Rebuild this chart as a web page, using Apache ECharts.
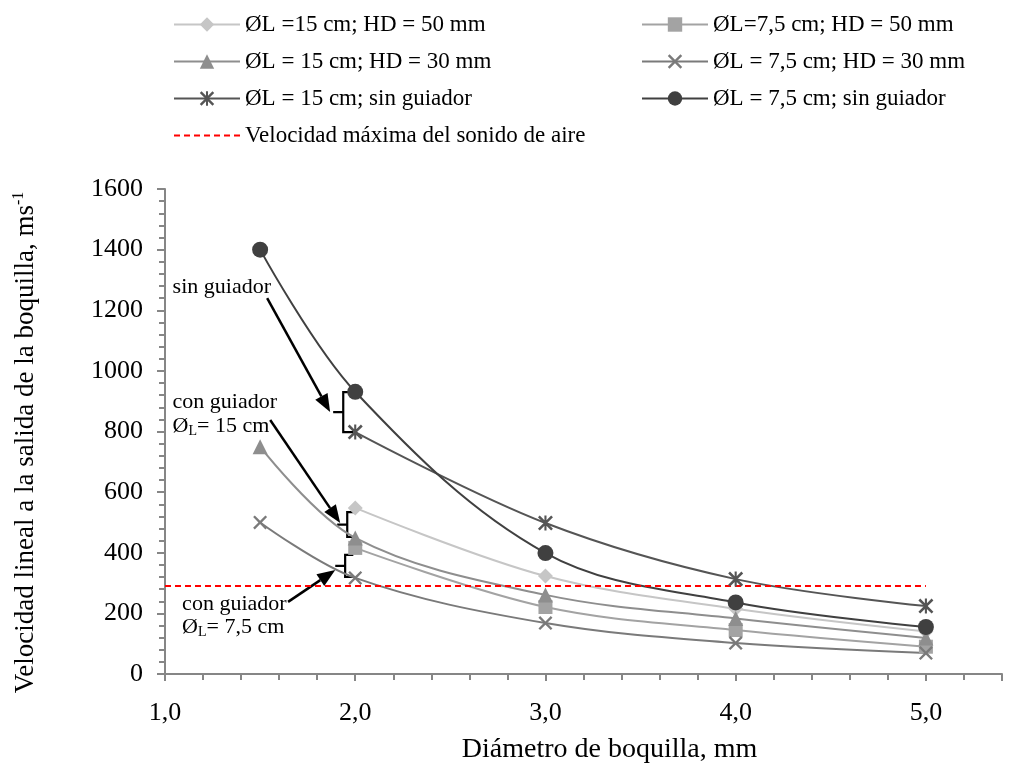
<!DOCTYPE html>
<html>
<head>
<meta charset="utf-8">
<script src="https://cdn.jsdelivr.net/npm/echarts@6/dist/echarts.min.js"></script>
<style>
  html, body { margin: 0; padding: 0; background: #fff; }
  #chart { width: 1009px; height: 765px; }
</style>
</head>
<body>
<div id="chart"></div>
<script>
// diametro de boquilla, mm
var xAll = [1.5, 2.0, 3.0, 4.0, 5.0];
var xFrom2 = [2.0, 3.0, 4.0, 5.0];

// velocidad lineal, m/s
var l15hd50 = [548, 323, 215, 140];          // sin punto en 1,5
var l75hd50 = [416, 221, 145, 90];           // sin punto en 1,5
var l15hd30 = [750, 449, 261, 183, 119];
var l75hd30 = [500, 317, 168, 102, 69];
var l15sin = [798, 498, 313, 224];           // sin punto en 1,5
var l75sin = [1400, 931, 399, 236, 155];

var sonido = 290;                            // velocidad maxima del sonido
var sonidoX = [1.0, 5.0];

var names = [
    'ØL =15 cm; HD = 50 mm',
    'ØL=7,5 cm; HD = 50 mm',
    'ØL = 15 cm; HD = 30 mm',
    'ØL = 7,5 cm; HD = 30 mm',
    'ØL = 15 cm; sin guiador',
    'ØL = 7,5 cm; sin guiador',
    'Velocidad máxima del sonido de aire'
];

var xTicks = [1, 2, 3, 4, 5];

var xPath = 'path://M0,1.2L1.2,0L5,3.8L8.8,0L10,1.2L6.2,5L10,8.8L8.8,10L5,6.2L1.2,10L0,8.8L3.8,5Z';
var starPath = 'path://M0,1.2L1.2,0L5,3.8L8.8,0L10,1.2L6.2,5L10,8.8L8.8,10L5,6.2L1.2,10L0,8.8L3.8,5Z M4.3,0L5.7,0L5.7,10L4.3,10Z';

function pares(xs, ys) {
    var d = [];
    for (var i = 0; i < ys.length; i++) {
        d.push([xs[i], ys[i]]);
    }
    return d;
}

function serie(name, xs, ys, color, symbol, size) {
    return {
        name: name,
        type: 'line',
        smooth: 0.35,
        data: pares(xs, ys),
        symbol: symbol,
        symbolSize: size,
        showSymbol: true,
        lineStyle: { color: color, width: 2 },
        itemStyle: { color: color },
        emphasis: { disabled: true }
    };
}

var font = 'Liberation Serif';
var chart = echarts.init(document.getElementById('chart'));

var legendText = { fontFamily: font, fontSize: 23, color: '#000', lineHeight: 22 };

var option = {
    animation: false,
    backgroundColor: '#fff',
    textStyle: { fontFamily: font },
    grid: { left: 165, right: 7, top: 189, bottom: 91, outerBoundsMode: 'none' },
    legend: [{
        orient: 'vertical',
        left: 168,
        top: 8,
        itemWidth: 66,
        itemHeight: 18,
        itemGap: 14,
        data: [names[0], names[2], names[4], names[6]],
        textStyle: legendText
    }, {
        orient: 'vertical',
        left: 636,
        top: 8,
        itemWidth: 66,
        itemHeight: 18,
        itemGap: 14,
        data: [names[1], names[3], names[5]],
        textStyle: legendText
    }],
    xAxis: {
        type: 'value',
        min: 1,
        max: 5.4,
        interval: 1,
        name: 'Diámetro de boquilla, mm',
        nameLocation: 'middle',
        nameGap: 62,
        nameTextStyle: { fontFamily: font, fontSize: 28, color: '#000', padding: [0, 0, 0, 52] },
        axisLine: { lineStyle: { color: '#868686', width: 2 } },
        axisTick: { length: 7, lineStyle: { color: '#868686', width: 2 } },
        minorTick: { show: true, splitNumber: 5, length: 6, lineStyle: { color: '#868686', width: 2 } },
        splitLine: { show: false },
        axisLabel: {
            margin: 26,
            fontFamily: font,
            fontSize: 26,
            color: '#000',
            showMaxLabel: false,
            formatter: function (v) {
                if (xTicks.indexOf(v) < 0) return '';
                return v.toFixed(1).replace('.', ',');
            }
        }
    },
    yAxis: {
        type: 'value',
        min: 0,
        max: 1600,
        interval: 200,
        name: 'Velocidad lineal a la salida de la boquilla, ms{sup|-1}',
        nameLocation: 'middle',
        nameGap: 124,
        nameTextStyle: {
            fontFamily: font, fontSize: 27, color: '#000',
            padding: [0, 22, 0, 0],
            rich: { sup: { fontFamily: font, fontSize: 16, color: '#000', verticalAlign: 'top', padding: [0, 0, 14, 0] } }
        },
        axisLine: { show: true, lineStyle: { color: '#868686', width: 2 } },
        axisTick: { show: true, length: 8, lineStyle: { color: '#868686', width: 2 } },
        minorTick: { show: true, splitNumber: 5, length: 6, lineStyle: { color: '#868686', width: 2 } },
        splitLine: { show: false },
        axisLabel: {
            margin: 22, fontFamily: font, fontSize: 26, color: '#000',
            formatter: function (v) { return String(v); }
        }
    },
    series: [
        serie(names[0], xFrom2, l15hd50, '#c6c6c6', 'diamond', 15),
        serie(names[1], xFrom2, l75hd50, '#a3a3a3', 'rect', 14),
        serie(names[2], xAll, l15hd30, '#8e8e8e', 'triangle', 15),
        serie(names[3], xAll, l75hd30, '#7a7a7a', xPath, 14),
        serie(names[4], xFrom2, l15sin, '#555555', starPath, 15),
        serie(names[5], xAll, l75sin, '#404040', 'circle', 16),
        {
            name: names[6],
            type: 'line',
            data: pares(sonidoX, [sonido, sonido]),
            symbol: 'none',
            lineStyle: { color: '#ff0000', width: 2, type: [6, 4] },
            itemStyle: { color: '#ff0000', opacity: 0 },
            emphasis: { disabled: true }
        }
    ]
};

chart.setOption(option);

// anotaciones (flechas, llaves y textos) en coordenadas del grafico
var flechas = [
    [[1.537, 1240], [1.868, 864]],
    [[1.553, 838], [1.921, 498]],
    [[1.647, 238], [1.895, 343]]
];
var llaves = [
    // x, yArriba, yAbajo, xGancho, xDerecha
    [1.937, 930, 798, 1.884, 1.99],
    [1.958, 534, 452, 1.905, 2.0],
    [1.947, 393, 320, 1.895, 1.99]
];

function px(p) { return chart.convertToPixel({ gridIndex: 0 }, p); }

var graficos = [];
flechas.forEach(function (f) {
    var a = px(f[0]), b = px(f[1]);
    var ang = Math.atan2(b[1] - a[1], b[0] - a[0]);
    var L = 18, W = 7;
    var bx = b[0] - L * Math.cos(ang), by = b[1] - L * Math.sin(ang);
    graficos.push({
        type: 'line',
        shape: { x1: a[0], y1: a[1], x2: bx, y2: by },
        style: { stroke: '#000', lineWidth: 2.5 }
    });
    graficos.push({
        type: 'polygon',
        shape: { points: [
            [b[0], b[1]],
            [bx + W * Math.sin(ang), by - W * Math.cos(ang)],
            [bx - W * Math.sin(ang), by + W * Math.cos(ang)]
        ] },
        style: { fill: '#000' }
    });
});
llaves.forEach(function (l) {
    var t = px([l[0], l[1]]), b = px([l[0], l[2]]);
    var m = (t[1] + b[1]) / 2;
    var g = px([l[3], 0])[0], r = px([l[4], 0])[0];
    graficos.push({
        type: 'polyline',
        shape: { points: [[r, t[1]], [t[0], t[1]], [t[0], m], [g, m], [t[0], m], [t[0], b[1]], [r, b[1]]] },
        style: { stroke: '#000', lineWidth: 2.2, fill: null }
    });
});

var textos = [
    { p: [1.04, 1276], t: 'sin guiador' },
    { p: [1.04, 898], t: 'con guiador' },
    { p: [1.04, 818], t: 'Ø{sub|L}= 15 cm' },
    { p: [1.09, 230], t: 'con guiador' },
    { p: [1.09, 155], t: 'Ø{sub|L}= 7,5 cm' }
];
textos.forEach(function (o) {
    var q = px(o.p);
    graficos.push({
        type: 'text',
        x: q[0],
        y: q[1],
        style: {
            text: o.t,
            fontFamily: font,
            fontSize: 22,
            fill: '#000',
            verticalAlign: 'middle',
            rich: { sub: { fontFamily: font, fontSize: 14, fill: '#000', padding: [11, 0, 0, 0] } }
        }
    });
});

chart.setOption({ graphic: graficos });
</script>
</body>
</html>
